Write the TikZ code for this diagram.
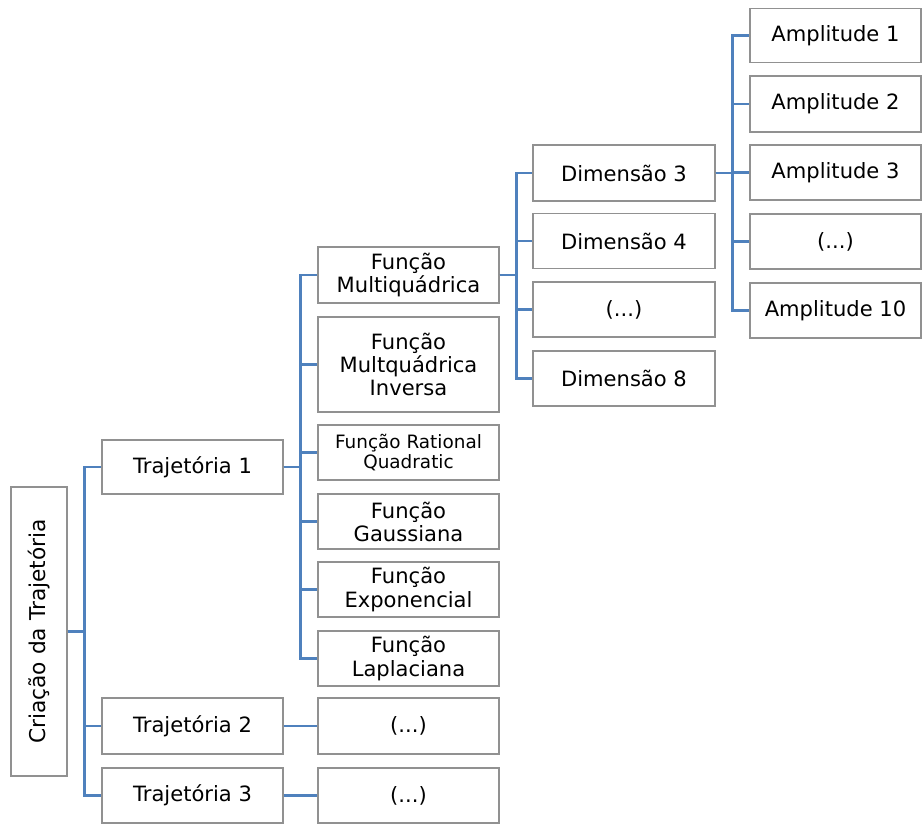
\documentclass[tikz,border=0pt]{standalone}
\usepackage{fontspec}
\setmainfont{DejaVu Sans}
\definecolor{lineblue}{RGB}{79,129,189}
\definecolor{boxgray}{RGB}{145,145,145}
\begin{document}
\begin{tikzpicture}[x=0.75pt,y=-0.75pt,
  box/.style={draw=boxgray,line width=1.1pt,fill=white,align=center,inner sep=0pt,
    font=\fontsize{15.8pt}{17.3pt}\selectfont},
  w1/.style={minimum width=181*0.75pt},
  w3/.style={minimum width=182*0.75pt},
  w4/.style={minimum width=171*0.75pt},
  hh/.style={minimum height=#1*0.75pt},
  conn/.style={draw=lineblue,line width=1.9pt}]
\useasboundingbox (0,0) rectangle (922,824);
% root
\node[box,minimum width=56*0.75pt,minimum height=289*0.75pt] (root) at (39,631.5) {};
\node[rotate=90,font=\fontsize{16.3pt}{18pt}\selectfont] (roottext) at (root.center) {Criação da Trajetória};
% level 1
\node[box,w1,hh=54] (t1) at (192.5,467) {Trajetória 1};
\node[box,w1,hh=56] (t2) at (192.5,726) {Trajetória 2};
\node[box,w1,hh=55] (t3) at (192.5,795.5) {Trajetória 3};
% level 2
\node[box,w1,hh=56] (f1) at (408.5,275) {Função\\Multiquádrica};
\node[box,w1,hh=95] (f2) at (408.5,364.5) {Função\\Multquádrica\\Inversa};
\node[box,w1,hh=55,font=\fontsize{13.8pt}{14.5pt}\selectfont] (f3) at (408.5,452.5) {Função Rational\\Quadratic};
\node[box,w1,hh=55] (f4) at (408.5,521.5) {Função\\Gaussiana};
\node[box,w1,hh=55] (f5) at (408.5,589.5) {Função\\Exponencial};
\node[box,w1,hh=55] (f6) at (408.5,658.5) {Função\\Laplaciana};
\node[box,w1,hh=56] (e2) at (408.5,726) {(...)};
\node[box,w1,hh=55] (e3) at (408.5,795.5) {(...)};
% level 3
\node[box,w3,hh=56] (d3) at (624,173) {Dimensão 3};
\node[box,w3,hh=55] (d4) at (624,241) {Dimensão 4};
\node[box,w3,hh=55] (d5) at (624,309.5) {(...)};
\node[box,w3,hh=55] (d8) at (624,378.5) {Dimensão 8};
% level 4
\node[box,w4,hh=54] (a1) at (835.5,35.5) {Amplitude 1};
\node[box,w4,hh=56] (a2) at (835.5,104) {Amplitude 2};
\node[box,w4,hh=55] (a3) at (835.5,172.5) {Amplitude 3};
\node[box,w4,hh=55] (a4) at (835.5,241.5) {(...)};
\node[box,w4,hh=55] (a5) at (835.5,310.5) {Amplitude 10};
% connectors
\foreach \c in {t1,t2,t3} \draw[conn] (root.east) -- ++(17,0) |- (\c.west);
\foreach \c in {f1,f2,f3,f4,f5,f6} \draw[conn] (t1.east) -- ++(17,0) |- (\c.west);
\draw[conn] (t2.east) -- (e2.west);
\draw[conn] (t3.east) -- (e3.west);
\foreach \c in {d3,d4,d5,d8} \draw[conn] (f1.east) -- ++(17,0) |- (\c.west);
\foreach \c in {a1,a2,a3,a4,a5} \draw[conn] (d3.east) -- ++(17,0) |- (\c.west);
\end{tikzpicture}
\end{document}
